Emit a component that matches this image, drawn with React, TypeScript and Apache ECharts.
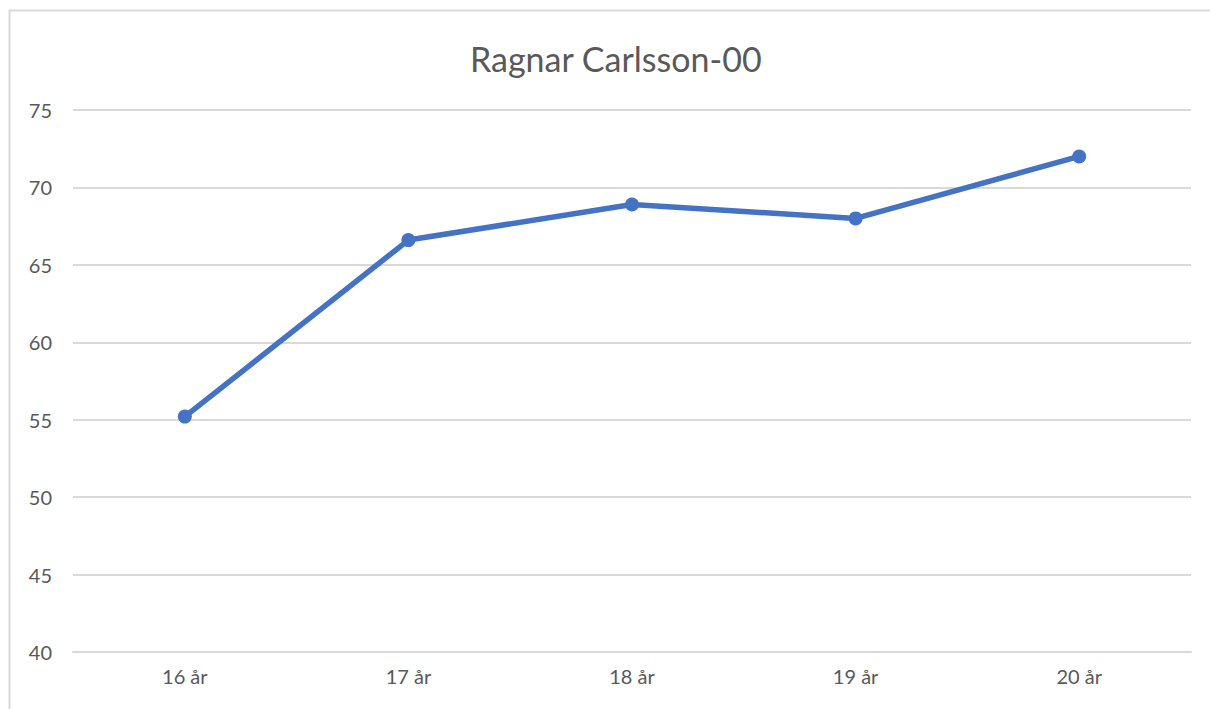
import React, { useEffect, useRef } from "react";
import * as echarts from "echarts";

const categories = ["16 år", "17 år", "18 år", "19 år", "20 år"];
const values = [55.2, 66.6, 68.9, 68.0, 72.0];
const yMin = 40;
const yMax = 75;
const yStep = 5;
const title = "Ragnar Carlsson-00";

export default function App() {
  const ref = useRef<HTMLDivElement>(null);
  useEffect(() => {
    if (!ref.current) return;
    const chart = echarts.init(ref.current, undefined, { renderer: "svg" });
    const font = "Lato, 'Open Sans', sans-serif";
    chart.setOption({
      animation: false,
      backgroundColor: "#ffffff",
      title: {
        text: title,
        left: 465,
        top: 36,
        textStyle: { fontFamily: font, fontSize: 34, fontWeight: "normal", color: "#595959" },
      },
      graphic: [
        {
          type: "rect",
          shape: { x: 9.5, y: 10.5, width: 1230, height: 740 },
          style: { fill: "none", stroke: "#d9d9d9", lineWidth: 2 },
          silent: true,
        },
      ],
      grid: { left: 73, right: 19, top: 110, bottom: 57 },
      xAxis: {
        type: "category",
        data: categories,
        boundaryGap: true,
        axisLine: { show: true, lineStyle: { color: "#d9d9d9", width: 2 } },
        axisTick: { show: false },
        axisLabel: { color: "#595959", fontFamily: font, fontSize: 20, margin: 14 },
      },
      yAxis: {
        type: "value",
        min: yMin,
        max: yMax,
        interval: yStep,
        axisLine: { show: false },
        axisTick: { show: false },
        axisLabel: { color: "#595959", fontFamily: font, fontSize: 20, margin: 21 },
        splitLine: { lineStyle: { color: "#d9d9d9", width: 2 } },
      },
      series: [
        {
          type: "line",
          data: values,
          symbol: "circle",
          symbolSize: 14,
          itemStyle: { color: "#4472c4" },
          lineStyle: { color: "#4472c4", width: 5.5 },
        },
      ],
    });
    return () => chart.dispose();
  }, []);
  return (
    <div
      ref={ref}
      style={{ position: "fixed", left: 0, top: 0, width: 1210, height: 709 }}
    />
  );
}
